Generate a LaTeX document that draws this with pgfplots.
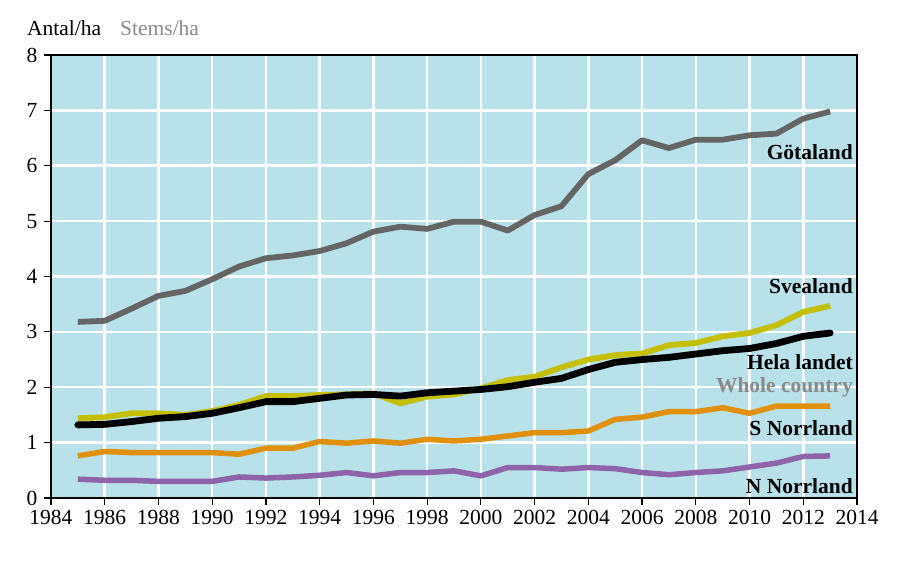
\documentclass[border=0pt]{standalone}
\usepackage{fontspec}
\setmainfont{Liberation Serif}
\usepackage{pgfplots}
\pgfplotsset{compat=1.18}
\definecolor{bgblue}{HTML}{B9E1EA}
\definecolor{gotgray}{HTML}{656565}
\definecolor{sveyel}{HTML}{C4BF00}
\definecolor{snorr}{HTML}{E0900A}
\definecolor{nnorr}{HTML}{8E63AA}
\definecolor{wcgray}{HTML}{8A8A8A}
\begin{document}
\begin{tikzpicture}
\useasboundingbox (-51pt,-82pt) rectangle (849pt,498pt);
\begin{axis}[
  at={(0pt,0pt)}, anchor=south west,
  scale only axis, width=806pt, height=443pt,
  xmin=1984, xmax=2014, ymin=0, ymax=8,
  xtick={1984,1986,...,2014}, ytick={0,1,...,8},
  xtick pos=bottom, ytick pos=left,
  tick align=outside, major tick length=7pt,
  tick style={black, line width=1.2pt},
  axis line style={black, line width=1.3pt},
  axis background/.style={fill=bgblue},
  grid=major, major grid style={white, line width=2.5pt},
  /pgf/number format/assume math mode=true,
  /pgf/number format/1000 sep={},
  ticklabel style={font=\fontsize{21.5}{25}\selectfont},
  xticklabel style={yshift=-2pt},
  yticklabel style={xshift=-3pt},
  clip=false,
  every axis plot/.append style={line join=round, line cap=butt},
]
\addplot[gotgray, line width=5.8pt] coordinates {
(1985,3.18)(1986,3.20)(1987,3.42)(1988,3.65)(1989,3.74)(1990,3.95)(1991,4.18)(1992,4.33)(1993,4.38)(1994,4.46)(1995,4.60)(1996,4.81)(1997,4.90)(1998,4.86)(1999,4.99)(2000,4.99)(2001,4.83)(2002,5.11)(2003,5.27)(2004,5.85)(2005,6.10)(2006,6.46)(2007,6.32)(2008,6.47)(2009,6.47)(2010,6.55)(2011,6.58)(2012,6.85)(2013,6.98)};
\addplot[sveyel, line width=5.8pt] coordinates {
(1985,1.44)(1986,1.46)(1987,1.53)(1988,1.53)(1989,1.50)(1990,1.57)(1991,1.68)(1992,1.84)(1993,1.84)(1994,1.86)(1995,1.87)(1996,1.89)(1997,1.71)(1998,1.83)(1999,1.87)(2000,1.98)(2001,2.13)(2002,2.19)(2003,2.36)(2004,2.50)(2005,2.58)(2006,2.61)(2007,2.76)(2008,2.80)(2009,2.92)(2010,2.98)(2011,3.12)(2012,3.36)(2013,3.47)};
\addplot[snorr, line width=5.5pt] coordinates {
(1985,0.76)(1986,0.84)(1987,0.82)(1988,0.82)(1989,0.82)(1990,0.82)(1991,0.79)(1992,0.90)(1993,0.90)(1994,1.02)(1995,0.99)(1996,1.03)(1997,0.99)(1998,1.06)(1999,1.03)(2000,1.06)(2001,1.12)(2002,1.18)(2003,1.18)(2004,1.21)(2005,1.42)(2006,1.46)(2007,1.56)(2008,1.56)(2009,1.63)(2010,1.53)(2011,1.66)(2012,1.66)(2013,1.66)};
\addplot[nnorr, line width=5.5pt] coordinates {
(1985,0.34)(1986,0.32)(1987,0.32)(1988,0.30)(1989,0.30)(1990,0.30)(1991,0.38)(1992,0.36)(1993,0.38)(1994,0.41)(1995,0.46)(1996,0.40)(1997,0.46)(1998,0.46)(1999,0.49)(2000,0.40)(2001,0.55)(2002,0.55)(2003,0.52)(2004,0.55)(2005,0.53)(2006,0.46)(2007,0.42)(2008,0.46)(2009,0.49)(2010,0.56)(2011,0.63)(2012,0.75)(2013,0.76)};
\addplot[black, line width=6.8pt, line cap=round] coordinates {
(1985,1.32)(1986,1.33)(1987,1.38)(1988,1.44)(1989,1.47)(1990,1.53)(1991,1.63)(1992,1.74)(1993,1.74)(1994,1.80)(1995,1.86)(1996,1.87)(1997,1.84)(1998,1.90)(1999,1.93)(2000,1.96)(2001,2.01)(2002,2.09)(2003,2.16)(2004,2.32)(2005,2.45)(2006,2.50)(2007,2.54)(2008,2.60)(2009,2.66)(2010,2.70)(2011,2.79)(2012,2.92)(2013,2.98)};
\tikzset{lab/.style={anchor=east, font=\fontsize{21.5}{25}\selectfont\bfseries, inner sep=0pt}}
\node[lab] at (axis cs:2013.85,6.25) {Götaland};
\node[lab] at (axis cs:2013.85,3.83) {Svealand};
\node[lab] at (axis cs:2013.85,2.45) {Hela landet};
\node[lab, text=wcgray] at (axis cs:2013.85,1.99) {Whole country};
\node[lab] at (axis cs:2013.85,1.26) {S Norrland};
\node[lab] at (axis cs:2013.85,0.22) {N Norrland};
\end{axis}
\node[anchor=base west, font=\fontsize{21.5}{25}\selectfont, inner sep=0pt] at (-24pt,462pt) {Antal/ha};
\node[anchor=base west, font=\fontsize{21.5}{25}\selectfont, inner sep=0pt, text=wcgray] at (69pt,462pt) {Stems/ha};
\end{tikzpicture}
\end{document}
